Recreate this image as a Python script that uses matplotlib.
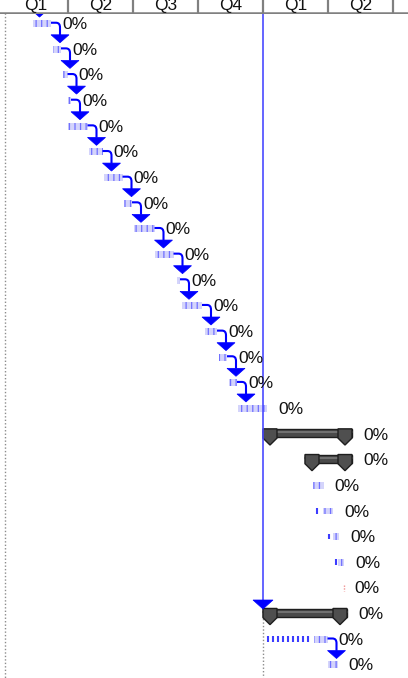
import matplotlib.pyplot as plt
from matplotlib.patches import Polygon, PathPatch, Rectangle
from matplotlib.path import Path
import numpy as np

plt.rcParams['font.family'] = ['Liberation Sans', 'DejaVu Sans']
plt.rcParams['hatch.linewidth'] = 0.9

# ---- timescale header (weeks from start of year 1)
quarter_labels = ['Q1', 'Q2', 'Q3', 'Q4', 'Q1', 'Q2']
quarter_starts = [0, 13, 26, 39, 52, 65]
quarter_len = 13

# ---- rows of the gantt, weeks
kind = ['task'] * 16 + ['summary', 'summary'] + ['task'] * 4 + ['mark', 'summary', 'task', 'task']
start = [6.0, 10.0, 12.0, 13.0, 13.0, 17.2, 20.2, 24.1, 26.1, 30.4, 34.7, 35.8, 40.4, 43.1, 45.1, 47.0,
         52.0, 60.4, 62.0, 64.0, 66.0, 67.0, 68.1, 52.0, 62.2, 65.0]
finish = [9.6, 11.6, 12.9, 13.6, 16.9, 19.9, 23.9, 25.8, 30.3, 34.1, 35.4, 39.8, 42.8, 44.8, 46.8, 52.8,
          69.8, 69.8, 64.1, 66.0, 67.2, 68.2, 68.1, 68.8, 64.9, 66.9]
pct_done = [0] * 26
slack_from = {19: 62.8, 20: 65.2, 21: 66.6, 24: 53.0}
links = [(i, i + 1) for i in range(15)] + [(24, 25)]
lead_in_x = 7.3          # link coming into row 0 from above
year_link_x = 52.0       # long link down the year boundary
year_link_to = 23

BLUE = '#0000ff'
n = len(kind)

fig = plt.figure(figsize=(4.08, 6.78), dpi=100)
ax = fig.add_axes([0, 0, 1, 1])
ax.set_xlim(-0.6, 81.0)
ax.set_ylim(25.51, -0.916)
ax.axis('off')

BH = 0.27
# grey dotted guide lines
ax.vlines(0.4, -1, 26, color='#8c8c8c', linestyles=(0, (1, 1.5)), lw=1, zorder=0)
ax.vlines(year_link_x, year_link_to - 0.2, 26, color='#8c8c8c', linestyles=(0, (1, 1.5)), lw=1, zorder=0)

for i in range(n):
    s, f = start[i], finish[i]
    if kind[i] == 'task':
        ax.barh(i, f - s, left=s, height=BH, color='#d4d4fb', hatch='|||',
                edgecolor='#7070ff', linewidth=0, zorder=2)
    elif kind[i] == 'summary':
        ax.add_patch(Rectangle((s, i - 0.19), f - s, 0.31, fc='#4a4a4a', ec='#1e1e1e', lw=1, zorder=3))
        ax.plot([s, f], [i - 0.06, i - 0.06], color='#7a7a7a', lw=1.2, zorder=3)
        for c0 in (s, f - 2.8):
            ax.add_patch(Polygon([(c0, i - 0.2), (c0 + 2.8, i - 0.2), (c0 + 2.8, i + 0.16),
                                  (c0 + 1.4, i + 0.43), (c0, i + 0.16)],
                                 closed=True, fc='#4f4f4f', ec='#1e1e1e', lw=1, zorder=4))
    else:
        ax.vlines(s, i - 0.12, i + 0.12, color='#f09090', linestyles=(0, (1, 1)), lw=1, zorder=2)
    if i in slack_from:
        ticks = np.arange(slack_from[i], s - 0.3, 1.0)
        ax.vlines(ticks, i - 0.11, i + 0.11, color='#3c3cff', lw=1.5, zorder=2)
    ax.text(f + 2.2, i + 0.04, '%d%%' % pct_done[i], va='center', ha='left', fontsize=12.5,
            color='#111111', zorder=6)


def arrow_head(x, ytip, half_w, h):
    ax.add_patch(Polygon([(x - half_w, ytip - h), (x + half_w, ytip - h), (x, ytip)],
                         closed=True, fc=BLUE, ec=BLUE, lw=0.5, zorder=5))


# finish-to-start links
for a, b in links:
    x0, y0 = finish[a], a - 0.03
    xa = x0 + 1.8
    ytip = b - 0.25
    verts = [(x0, y0), (xa - 0.8, y0), (xa, y0), (xa, y0 + 0.18), (xa, ytip - 0.3)]
    codes = [Path.MOVETO, Path.LINETO, Path.CURVE3, Path.CURVE3, Path.LINETO]
    ax.add_patch(PathPatch(Path(verts, codes), fill=False, ec=BLUE, lw=1.5, zorder=5))
    arrow_head(xa, ytip, 1.8, 0.31)

# link entering row 0 from off the top
ax.plot([lead_in_x, lead_in_x], [-1.2, -0.5], color=BLUE, lw=1.5, zorder=5)
arrow_head(lead_in_x, -0.25, 1.8, 0.31)

# long link down the year boundary
ax.plot([year_link_x, year_link_x], [-1, year_link_to - 0.5], color='#4a4aff', lw=1.2, zorder=5)
arrow_head(year_link_x, year_link_to - 0.18, 2.0, 0.35)

# ---- header
hh = 14 / 678.0
hx = fig.add_axes([0, 1 - hh, 1, hh])
hx.set_xlim(-0.6, 81.0)
hx.set_ylim(0, 14)
hx.set_xticks([])
hx.set_yticks([])
for sp in hx.spines.values():
    sp.set_visible(False)
hx.set_facecolor('white')
hx.axhline(1.2, color='#808080', lw=1.8)
for q, lab in zip(quarter_starts, quarter_labels):
    if q > 0:
        hx.vlines(q, 1.2, 14, color='#808080', lw=1.6)
    hx.text(q + quarter_len / 2, 4, lab, ha='center', va='baseline', fontsize=12.5, color='#111111',
            clip_on=False)
hx.vlines(quarter_starts[-1] + quarter_len, 1.2, 14, color='#808080', lw=1.6)

fig.savefig('out.png', dpi=100)
